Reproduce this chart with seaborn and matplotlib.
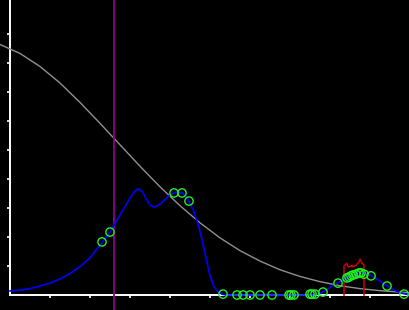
import matplotlib
matplotlib.use("Agg")
import matplotlib.pyplot as plt
import seaborn as sns

# Gray reference curve
gray_x = [-0.25, 0.25, 0.75, 1.25, 1.75, 2.25, 2.75, 3.25, 3.75, 4.25, 4.75, 5.25,
          5.75, 6.25, 6.75, 7.25, 7.75, 8.25, 8.75, 9.25, 9.75, 10.0]
gray_y = [8.64, 8.33, 7.88, 7.31, 6.64, 5.92, 5.18, 4.44, 3.73, 3.08, 2.49, 1.97,
          1.53, 1.17, 0.87, 0.64, 0.46, 0.32, 0.22, 0.15, 0.10, 0.08]

# Blue curve
blue_x = [0.0, 0.25, 0.5, 0.75, 1.0, 1.25, 1.5, 1.75, 2.0, 2.25, 2.5, 2.75, 3.0, 3.1,
          3.2, 3.3, 3.4, 3.5, 3.6, 3.7, 3.85, 3.95, 4.1, 4.2, 4.3, 4.4, 4.5, 4.6,
          4.7, 4.8, 4.9, 5.0, 5.1, 5.2, 5.3, 5.4, 7.6, 7.7, 7.825, 8.0, 8.175, 8.3,
          8.425, 8.55, 8.7, 8.825, 8.95, 9.05, 9.2, 9.425, 9.6, 9.8, 10.0]
blue_y = [0.14, 0.17, 0.22, 0.31, 0.41, 0.55, 0.74, 0.98, 1.28, 1.72, 2.17, 2.76, 3.34, 3.55,
          3.66, 3.58, 3.33, 3.10, 3.03, 3.08, 3.26, 3.40, 3.52, 3.55, 3.52, 3.40, 3.16, 2.86,
          2.45, 1.90, 1.28, 0.66, 0.30, 0.10, 0.03, 0.0, 0.0, 0.03, 0.10, 0.26, 0.41, 0.51,
          0.59, 0.67, 0.74, 0.76, 0.72, 0.65, 0.52, 0.31, 0.17, 0.06, 0.0]

# Green points
pts_x = [2.3, 2.5, 4.1, 4.3, 4.475, 5.325, 5.675, 5.825, 6.0, 6.25, 6.55, 6.975, 7.025,
         7.1, 7.5, 7.55, 7.625, 7.825, 8.2, 8.425, 8.475, 8.525, 8.575, 8.65, 8.725,
         8.775, 8.85, 9.025, 9.425, 9.85]
pts_y = [1.83, 2.17, 3.52, 3.52, 3.24, 0.03, 0.0, 0.0, 0.0, 0.0, 0.0, 0.0, 0.0,
         0.0, 0.03, 0.03, 0.03, 0.10, 0.41, 0.59, 0.62, 0.66, 0.69, 0.72, 0.76,
         0.76, 0.72, 0.66, 0.31, 0.03]

# Red outline
red_x = [8.35, 8.35, 8.425, 8.45, 8.5, 8.55, 8.575, 8.65, 8.675, 8.725, 8.75, 8.8, 8.85, 8.85]
red_y = [0.0, 1.0, 1.10, 0.97, 0.97, 1.03, 0.97, 1.03, 1.07, 1.14, 1.24, 1.10, 1.03, 0.0]

vline_x = 2.61
ticks = [1, 2, 3, 4, 5, 6, 7, 8, 9]

fig = plt.figure(figsize=(4.1, 3.1), dpi=100, facecolor="black")
ax = fig.add_axes([0, 0, 1, 1])
ax.set_facecolor("black")

sns.lineplot(x=gray_x, y=gray_y, ax=ax, color="#909090", linewidth=1.0,
             sort=False, estimator=None, zorder=3)
sns.lineplot(x=red_x, y=red_y, ax=ax, color="#cc0000", linewidth=1.1,
             sort=False, estimator=None, zorder=3)
sns.lineplot(x=blue_x, y=blue_y, ax=ax, color="#0000ff", linewidth=1.2,
             sort=False, estimator=None, zorder=4)
ax.axvline(vline_x, color="#8b008b", linewidth=1.3, zorder=3)
sns.scatterplot(x=pts_x, y=pts_y, ax=ax, s=36, facecolors="none",
                edgecolor="#22ee22", linewidth=1.0, zorder=5)

ax.set_xlim(-0.25, 10.0)
ax.set_ylim(-15 / 29, 295 / 29)
for s in ["top", "right"]:
    ax.spines[s].set_visible(False)
ax.spines["left"].set_position(("data", 0))
ax.spines["bottom"].set_position(("data", 0))
ax.spines["left"].set_bounds(0, 295 / 29)
ax.spines["bottom"].set_bounds(0, 10.0)
for s in ["left", "bottom"]:
    ax.spines[s].set_color("white")
    ax.spines[s].set_linewidth(1.4)
    ax.spines[s].set_zorder(2)
ax.set_xticks(ticks)
ax.set_yticks(ticks)
ax.set_xticklabels([])
ax.set_yticklabels([])
ax.tick_params(direction="out", length=2.5, width=1.2, color="white")
ax.set_xlabel("")
ax.set_ylabel("")

fig.savefig("out.png", dpi=100, facecolor="black")
